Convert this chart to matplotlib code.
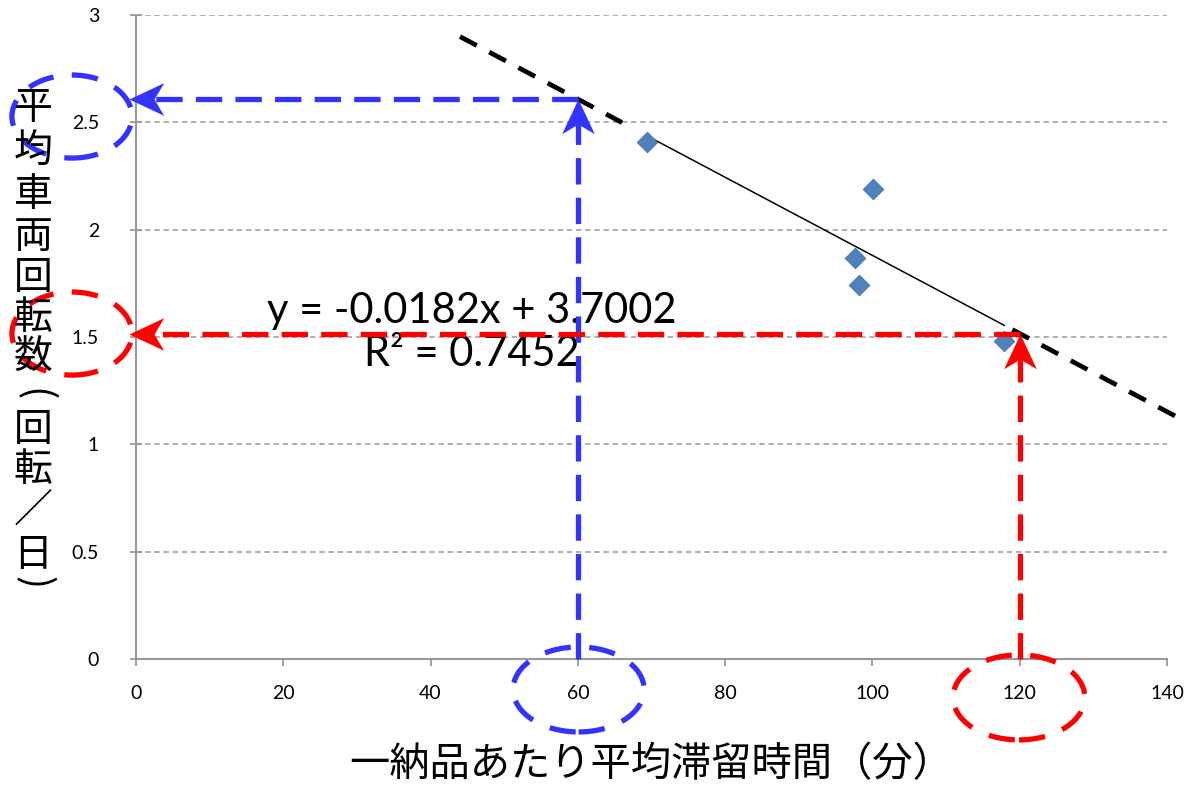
import matplotlib
matplotlib.use('Agg')
import matplotlib.pyplot as plt
from matplotlib.patches import Ellipse
from matplotlib.path import Path
import numpy as np


plt.rcParams['font.family'] = ['Lato', 'Noto Sans CJK JP', 'DejaVu Sans']

# scatter data (minutes per delivery vs. turnover per day)
stay_min = [69.4, 100.1, 97.6, 98.2, 117.9]
turnover = [2.41, 2.19, 1.87, 1.74, 1.48]

slope, intercept = -0.0182, 3.7002
r2 = 0.7452
ext_left = [44, 66]              # dashed extensions of the trend line
ext_right = [119, 141.8]
read_x = [60, 120]               # read-off points
read_colors = ['#3333ff', '#ff0000']

x_ticks = list(range(0, 141, 20))
y_ticks = [0, 0.5, 1, 1.5, 2, 2.5, 3]

xlabel = '一納品あたり平均滞留時間（分）'
ylabel_chars = list('平均車両回転数(回転／日)')

fig = plt.figure(figsize=(11.91, 7.86), dpi=100)
ax = fig.add_axes([0.1142, 0.1616, 0.8656, 0.8193])

ax.set_xlim(0, 140)
ax.set_ylim(0, 3)
ax.set_xticks(x_ticks)
ax.set_yticks(y_ticks)
ax.set_yticklabels([f'{v:g}' for v in y_ticks])
ax.tick_params(axis='both', labelsize=14, color='#999999', length=5, width=1.3)
ax.tick_params(axis='x', direction='out', pad=14)
ax.tick_params(axis='y', direction='inout', pad=22, length=9)
for s in ['top', 'right']:
    ax.spines[s].set_visible(False)
for s in ['left', 'bottom']:
    ax.spines[s].set_color('#999999')
    ax.spines[s].set_linewidth(1.5)
ax.yaxis.grid(True, color='#999999', linestyle=(0, (3.5, 2.5)), linewidth=1.1)
ax.set_axisbelow(True)

# trend line over data range, dashed beyond it
xs = np.array([min(stay_min), max(stay_min)])
ax.plot(xs, slope * xs + intercept, color='black', lw=1.1, zorder=3)
for seg in [ext_left, ext_right]:
    xe = np.array(seg)
    ax.plot(xe, slope * xe + intercept, color='black', lw=3.4,
            linestyle=(0, (4, 3)), clip_on=False, zorder=3)

ax.scatter(stay_min, turnover, marker='D', s=110, color='#4f81bd',
           edgecolor='#3f6fa8', linewidth=0.6, zorder=4)

ax.text(45.6, 1.52, f'y = {slope}x + {intercept}\nR² = {r2}', fontsize=30,
        ha='center', va='center', linespacing=1.15, zorder=5)

# notched arrow heads, tip at the origin
head_up = Path([(0, 0), (0.47, -1), (0, -0.72), (-0.47, -1), (0, 0)],
               [Path.MOVETO, Path.LINETO, Path.LINETO, Path.LINETO, Path.CLOSEPOLY])
head_left = Path([(0, 0), (1, 0.47), (0.72, 0), (1, -0.47), (0, 0)],
                 [Path.MOVETO, Path.LINETO, Path.LINETO, Path.LINETO, Path.CLOSEPOLY])

# read-off arrows
for xv, c in zip(read_x, read_colors):
    yv = slope * xv + intercept
    ls = (0, (5, 2.5))
    ax.plot([xv, xv], [0, yv - 0.08], color=c, lw=3.8, linestyle=ls, clip_on=False, zorder=6)
    ax.plot([xv, 2], [yv, yv], color=c, lw=3.8, linestyle=ls, clip_on=False, zorder=6)
    ax.plot([xv], [yv], marker=head_up, ms=50, color=c, mew=0, clip_on=False, zorder=7)
    ax.plot([-1], [yv], marker=head_left, ms=50, color=c, mew=0, clip_on=False, zorder=7)

# dashed ellipses around read values
ellipses = [(-8.7, 2.527, 16.3, 0.387, read_colors[0]),
            (-8.7, 1.516, 16.3, 0.387, read_colors[1]),
            (60.1, -0.142, 17.8, 0.396, read_colors[0]),
            (119.9, -0.179, 17.9, 0.396, read_colors[1])]
for ex, ey, ew, eh, c in ellipses:
    ax.add_patch(Ellipse((ex, ey), ew, eh, fill=False, edgecolor=c, lw=3.8,
                         linestyle=(0, (5, 3.5)), clip_on=False, zorder=6))

fig.text(0.547, 0.027, xlabel, fontsize=29, ha='center', va='center',
         family=['Noto Sans CJK JP'])

# vertical y label, one character per row; brackets turned to vertical form
y_px = [108, 152, 195, 237, 278, 318, 358, 395, 430, 470, 512, 555, 583]
for ch, yp in zip(ylabel_chars, y_px):
    rot = -90 if ch in '()' else 0
    fig.text(33 / 1191, 1 - yp / 786, ch, fontsize=28, ha='center', va='center',
             rotation=rot, family=['Noto Sans CJK JP'])

fig.savefig('out.png', dpi=100)
